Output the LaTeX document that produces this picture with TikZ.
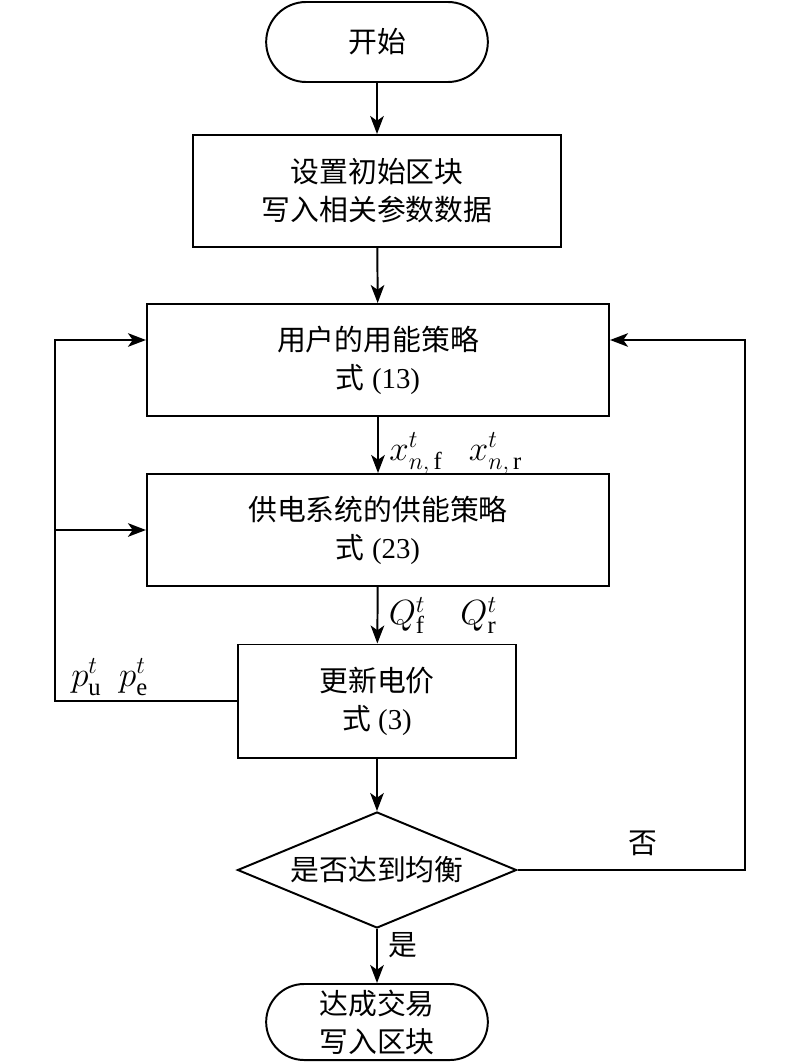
\documentclass[tikz,border=0pt]{standalone}
\usepackage{fontspec}
\setmainfont{Liberation Serif}
\newfontfamily\cjk{Noto Sans CJK SC}
\usetikzlibrary{arrows.meta}
\usetikzlibrary{shapes.geometric}
\usetikzlibrary{shapes.misc}

\begin{document}
\begin{tikzpicture} [x=.025cm, y=-.025cm, line width=1.4pt,
  every node/.style={font=\fontsize{20.5}{27}\selectfont, align=center},
  term/.style={draw, rounded rectangle, minimum width=5.775cm, minimum height=2cm},
  proc/.style={draw, rectangle, minimum height=2.8cm},
  decide/.style={draw, diamond, aspect=2.4, inner sep=0pt, minimum width=6.975cm, minimum height=2.9cm},
  var/.style={font=\fontsize{25}{28}\selectfont},
  arr/.style={-{Stealth[length=4.5mm, width=3.4mm, inset=1.2mm]}}]
\useasboundingbox (0,0) rectangle (800,1063);

\node[term] (start) at (377,42) {\cjk 开始};
\node[proc, minimum width=9.2cm] (init) at (377,191) {\cjk 设置初始区块\\ \cjk 写入相关参数数据};
\node[proc, minimum width=11.55cm] (user) at (378,360) {\cjk 用户的用能策略\\ {\cjk 式} (13)};
\node[proc, minimum width=11.55cm] (supply) at (378,530) {\cjk 供电系统的供能策略\\ {\cjk 式} (23)};
\node[proc, minimum width=6.95cm, minimum height=2.825cm] (price) at (377,701) {\cjk 更新电价\\ {\cjk 式} (3)};
\node[decide] (eq) at (377,870) {\cjk 是否达到均衡};
\node[term, minimum height=1.9cm] (stop) at (377,1022) {\cjk 达成交易\\ \cjk 写入区块};

\coordinate (l1) at (55,701);
\coordinate (l2) at (55,340);
\coordinate (r1) at (745,870);
\coordinate (r2) at (745,340);

\draw[arr] (start) -- (init);
\draw[arr] (init) -- (user);
\draw[arr] (user) -- node[right, var, xshift=4pt, yshift=-6pt] {$x^{t}_{n,\,\mathrm{f}}\ \ \ x^{t}_{n,\,\mathrm{r}}$} (supply);
\draw[arr] (supply) -- node[right, var, xshift=4pt] {$Q^{t}_{\mathrm{f}}\quad Q^{t}_{\mathrm{r}}$} (price);
\draw[arr] (price) -- (eq);
\draw[arr] (eq) -- node[right, pos=.3, xshift=4pt] {\cjk 是} (stop);

% feedback loops
\draw[arr] (price.west) -- node[above, var, pos=.7] {$p^{t}_{\mathrm{u}}\ \ p^{t}_{\mathrm{e}}$} (l1) -- (l2) -- (l2 -| user.west);
\draw[arr] (l1 |- supply.west) -- (supply.west);
\draw[arr] (eq.east) -- node[above, pos=.55, yshift=6pt] {\cjk 否} (r1) -- (r2) -- (r2 -| user.east);

\end{tikzpicture}
\end{document}
